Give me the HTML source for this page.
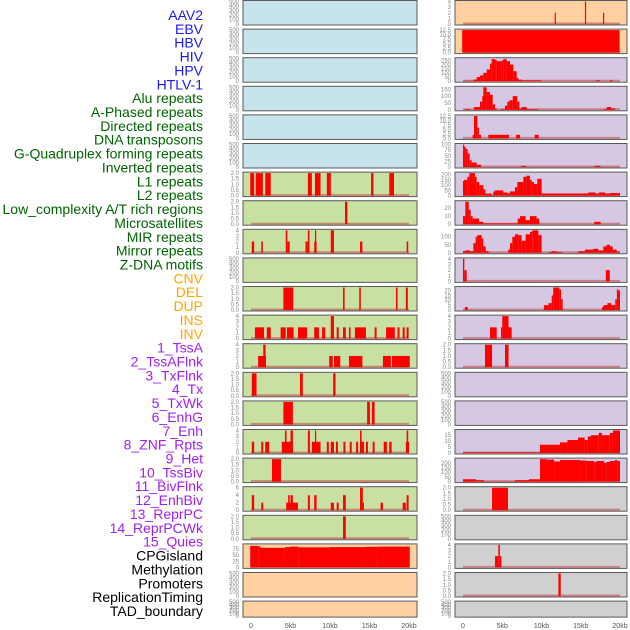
<!DOCTYPE html>
<html><head><meta charset="utf-8"><style>
html,body{margin:0;padding:0;background:#fff;width:630px;height:630px;overflow:hidden}
svg{display:block}
</style></head><body>
<svg id="chart" width="630" height="630" viewBox="0 0 630 630" xmlns="http://www.w3.org/2000/svg" font-family="Liberation Sans, sans-serif"></svg>
<script>
// ---------- labels ----------
const labelNames = ["AAV2","EBV","HBV","HIV","HPV","HTLV-1","Alu repeats","A-Phased repeats","Directed repeats","DNA transposons","G-Quadruplex forming repeats","Inverted repeats","L1 repeats","L2 repeats","Low_complexity A/T rich regions","Microsatellites","MIR repeats","Mirror repeats","Z-DNA motifs","CNV","DEL","DUP","INS","INV","1_TssA","2_TssAFlnk","3_TxFlnk","4_Tx","5_TxWk","6_EnhG","7_Enh","8_ZNF_Rpts","9_Het","10_TssBiv","11_BivFlnk","12_EnhBiv","13_ReprPC","14_ReprPCWk","15_Quies","CPGisland","Methylation","Promoters","ReplicationTiming","TAD_boundary"];
const labelGroups = [6,13,5,15,5];
const groupColors = ["#1a1aee","#006400","#ffa500","#a020f0","#000000"];

// ---------- tick label sets ----------
const T2 = ["0.0","0.5","1.0","1.5","2.0"];
const T4 = ["0","1","2","3","4"];
const T6 = ["0","2","4","6"];
const T500 = ["0","100","200","300","400","500"];
const T12 = ["0.0","2.5","5.0","7.5","10.0","12.5"];
const xTickKb = [0,5,10,15,20];
const xTickLabels = ["0","5kb","10kb","15kb","20kb"];

// ---------- left column data: [startKb, endKb, value] ----------
const leftL1 = [[-0.1,0.4,2],[0.6,1.5,2],[1.8,2.5,2],[7.2,7.7,2],[8.1,8.8,2],[9.6,10.1,2],[15.2,15.5,2],[17.5,18.1,2]];
const leftR7 = [[11.9,12.2,2]];
const leftR8 = [[0.1,0.4,2],[1.3,1.5,2],[4.4,4.6,4],[4.6,4.9,2],[6.9,7.2,2],[7.2,7.4,4],[8.0,8.3,2],[8.1,8.2,4],[10.1,10.5,4],[13.8,14.1,2],[19.7,19.9,2]];
const leftR10 = [[4.1,5.35,2],[11.65,11.85,2],[13.7,13.9,2],[18.35,18.55,2],[19.6,19.85,2]];
const leftR11 = [[0.5,1.65,2],[2.0,2.5,2],[3.75,4.4,2],[4.55,5.4,2],[5.95,7.1,2],[8.0,8.6,2],[9.0,9.4,2],[10.1,10.5,4],[10.85,11.1,2],[11.65,12.0,2],[12.4,12.6,2],[13.15,14.55,2],[15.65,15.9,2],[17.1,18.2,2],[18.55,18.8,2],[19.2,19.45,2],[19.7,19.95,2]];
const leftR12 = [[0.9,1.9,2],[1.55,1.85,4],[9.9,10.35,2],[10.5,11.3,2],[12.4,14.1,2],[16.7,17.7,2],[17.85,20.1,2]];
const leftR13 = [[0.1,0.7,2],[6.2,6.55,2],[10.4,10.7,2]];
const leftR14 = [[4.1,5.3,2],[14.7,15.05,2],[15.3,15.65,2]];
const leftR15 = [[0.1,0.4,2],[1.3,1.55,2],[1.8,2.3,2],[3.9,5.3,2],[4.3,4.5,4],[5.0,5.3,4],[7.2,7.45,4],[7.7,8.8,2],[8.1,8.25,4],[9.6,9.85,2],[10.1,10.5,2],[10.75,11.0,2],[11.7,11.95,2],[12.5,12.75,2],[13.3,13.55,2],[13.8,14.3,2],[13.8,14.0,4],[14.55,14.8,2],[15.4,15.65,2],[16.8,17.2,2],[17.5,17.8,2],[19.6,20.0,2],[19.7,19.9,4]];
const leftR16 = [[2.65,3.8,2]];
const leftR17 = [[0.1,0.4,4],[1.3,1.55,2],[4.45,5.95,2],[4.7,4.9,4],[5.0,5.3,4],[7.2,7.45,4],[8.0,8.3,4],[10.1,10.5,2],[10.85,11.1,2],[11.65,12.0,4],[13.8,14.15,6],[14.15,14.3,2],[16.4,16.7,2],[19.2,19.6,2],[19.7,19.95,4]];
const leftR18 = [[11.65,12.0,2]];
const leftCpg = [[-0.1,0.9,88],[0.9,1.2,86],[1.2,4.3,80],[4.3,5.0,83],[5.0,6.0,85],[6.0,10.0,82],[10.0,14.5,83],[14.5,16.0,84],[16.0,20.1,85]];

// ---------- right column data ----------
const rightR0 = [[11.68,11.82,2],[15.53,15.67,4],[17.83,17.97,2]];
const rightR1 = [[-0.1,19.95,12.5]];
const rightHiv = [[0.04,1.32,5],[1.32,1.74,20],[1.74,2.17,50],[2.17,2.59,70],[2.59,3.01,100],[3.01,3.44,140],[3.44,3.65,210],[3.65,4.08,265],[4.08,4.29,255],[4.29,4.92,240],[4.92,5.14,250],[5.14,5.56,265],[5.56,5.99,240],[5.99,6.41,200],[6.41,6.84,120],[6.84,7.05,40],[7.05,7.47,20],[7.47,10.0,10],[16.9,17.5,10],[18.7,19.1,10]];
const rightR3 = [[0.26,0.89,5],[1.4,2.17,20],[2.17,2.46,60],[2.46,2.59,100],[2.59,3.01,165],[3.01,3.44,130],[3.44,3.78,110],[3.78,4.08,40],[4.08,4.29,10],[4.84,5.35,5],[5.35,5.65,30],[5.65,5.9,60],[5.9,6.33,70],[6.33,6.92,100],[6.92,7.18,60],[7.18,7.47,10],[7.47,8.11,20],[8.11,9.59,5],[17.9,18.3,5],[18.3,18.9,20],[18.9,19.4,10]];
const rightR4 = [[1.23,1.4,2],[1.4,1.83,12.5],[1.83,2.04,6],[2.04,2.3,2],[3.23,5.86,2],[6.75,7.26,2],[9.13,9.64,2]];
const rightR5 = [[0,0.09,100],[0.09,0.34,90],[0.34,0.59,80],[0.59,0.85,60],[0.85,1.1,30],[1.1,1.74,20],[1.74,2.3,10],[7.4,8.0,5],[16.7,17.5,5]];
const rightR6 = [[0,0.13,140],[0.13,0.55,150],[0.55,0.81,180],[0.81,1.53,215],[1.53,1.74,180],[1.74,2.08,130],[2.08,2.59,100],[2.59,2.85,60],[2.85,3.65,20],[3.65,3.86,5],[3.86,4.08,40],[4.08,5.14,50],[5.14,5.65,30],[5.65,5.99,20],[5.99,6.62,40],[6.62,6.92,80],[6.92,7.69,130],[7.69,8.11,180],[8.11,8.53,190],[8.53,8.75,150],[8.75,9.04,130],[9.04,9.47,110],[9.47,10.02,160],[10.02,15.97,20],[15.97,16.9,30],[16.9,17.32,20],[17.32,18.09,30],[18.09,18.73,20],[18.73,20.0,25]];
const rightR7 = [[0,0.3,10],[0.3,0.72,28],[0.72,0.98,18],[0.98,1.23,10],[1.23,2.04,7],[2.04,2.59,3],[2.59,6.96,1],[6.96,7.26,7],[7.26,7.98,10],[7.98,8.53,5],[8.53,9.38,10],[9.38,9.72,7],[16.73,17.54,3]];
const rightR8 = [[0,0.25,10],[0.25,0.89,15],[0.89,1.32,10],[1.32,1.61,60],[1.61,1.83,100],[1.83,2.38,110],[2.38,2.59,90],[2.59,2.89,40],[2.89,3.23,10],[3.23,3.44,3],[5.77,5.99,20],[5.99,6.28,60],[6.28,6.62,100],[6.62,7.05,115],[7.05,7.47,110],[7.47,7.98,75],[7.98,8.53,115],[8.53,8.83,130],[8.83,9.6,140],[9.6,10.02,110],[10.96,11.3,5],[11.3,11.93,10],[11.93,12.57,5],[14.69,15.54,10],[15.54,16.6,20],[16.6,17.24,25],[17.24,17.88,15],[17.88,18.3,40],[18.3,18.73,50],[18.73,19.07,40],[19.07,19.58,20],[19.58,20.0,8]];
const rightR9 = [[0,0.17,4],[0.17,0.47,2],[18.2,18.7,2]];
const rightR10 = [[0.25,0.6,3],[10.3,10.9,5],[10.9,11.3,7],[11.3,11.5,15],[11.5,12.27,23],[12.27,12.5,21],[12.5,12.7,11],[17.7,17.9,3],[17.9,18.4,5],[18.4,18.9,7],[18.9,19.4,5],[19.4,19.6,11],[19.6,19.8,21],[19.8,20.0,20]];
const rightR11 = [[3.44,4.29,2],[4.84,5.0,2],[5.0,5.8,4],[5.8,6.2,2]];
const rightR12 = [[2.8,3.7,2],[5.35,5.8,2]];
const rightR15 = [[0,9.8,0.5],[9.8,12.36,7],[12.36,13.3,9],[13.3,14.65,11],[14.65,15.5,13],[15.5,15.9,11],[15.9,16.3,14],[16.3,17.3,15],[17.3,17.7,17],[17.7,18.7,15],[18.7,19.1,17],[19.1,20.0,19]];
const rightR16 = [[0,1.65,25],[1.65,2.67,15],[2.67,6.62,2],[6.62,8.4,15],[8.4,9.8,25],[9.8,10.57,240],[10.57,11.6,235],[11.6,12.36,215],[12.36,14.9,230],[14.9,15.75,225],[15.75,16.7,220],[16.7,17.0,210],[17.0,17.96,220],[17.96,18.3,200],[18.3,18.73,210],[18.73,19.36,220],[19.36,19.66,230],[19.66,20.0,220]];
const rightR17 = [[3.7,5.73,2]];
const rightR19 = [[4.08,4.5,2],[4.5,4.7,4],[4.7,4.9,2]];
const rightR20 = [[12.15,12.45,2]];

const BLUE="#c7e4ec", GREEN="#c8e0a2", ORANGE="#ffd0a0", LAV="#d6c7e3", GRAY="#d0d0d0";
const leftRows = [
 [BLUE,null,500,T500],[BLUE,null,500,T500],[BLUE,null,500,T500],[BLUE,null,500,T500],[BLUE,null,500,T500],[BLUE,null,500,T500],
 [GREEN,leftL1,2,T2],[GREEN,leftR7,2,T2],[GREEN,leftR8,4,T4],[GREEN,null,500,T500],[GREEN,leftR10,2,T2],[GREEN,leftR11,4,T4],
 [GREEN,leftR12,4,T4],[GREEN,leftR13,2,T2],[GREEN,leftR14,2,T2],[GREEN,leftR15,4,T4],[GREEN,leftR16,2,T2],[GREEN,leftR17,6,T6],
 [GREEN,leftR18,2,T2],[ORANGE,leftCpg,92,["0","25","50","75"]],[ORANGE,null,500,T500],[ORANGE,null,500,T500]
];
const rightRows = [
 [ORANGE,rightR0,4,T4],[ORANGE,rightR1,12.5,T12],[LAV,rightHiv,270,["0","50","100","150","200","250"]],[LAV,rightR3,165,["0","50","100","150"]],
 [LAV,rightR4,12.5,T12],[LAV,rightR5,100,["0","25","50","75","100"]],[LAV,rightR6,215,["0","50","100","150","200"]],[LAV,rightR7,28,["0","10","20"]],
 [LAV,rightR8,140,["0","50","100"]],[LAV,rightR9,4,T4],[LAV,rightR10,23,["0","5","10","15","20"]],[LAV,rightR11,4,T4],
 [LAV,rightR12,2,T2],[LAV,null,500,T500],[LAV,null,500,T500],[LAV,rightR15,19,["0","5","10","15"]],
 [LAV,rightR16,240,["0","50","100","150","200"]],[GRAY,rightR17,2,T2],[GRAY,null,500,T500],[GRAY,rightR19,4,T4],[GRAY,rightR20,2,T2],[GRAY,null,500,T500]
];

const NS="http://www.w3.org/2000/svg";
const svg=document.getElementById("chart");
function mk(tag,attrs,parent){const e=document.createElementNS(NS,tag);for(const k in attrs)e.setAttribute(k,attrs[k]);(parent||svg).appendChild(e);return e;}

let li=0;
labelGroups.forEach((n,g)=>{for(let k=0;k<n;k++){
  const t=mk("text",{x:203,y:20+li*13.86,"text-anchor":"end","font-size":"14",fill:groupColors[g]});
  t.textContent=labelNames[li];
  
  
  li++;}});

function drawColumn(rows,px,pw,x0,x20,colName){
  const xs=kb=>x0+kb*(x20-x0)/20;
  rows.forEach((r,i)=>{
    const top=i*28.6, h=(i===21)?17:25.5;
    const g=mk("g",{});
    
    
    const bg=mk("rect",{x:px,y:top+0.5,width:pw,height:h-1,fill:r[0],stroke:"#5a5a5a","stroke-width":"1"},g);
    
    
    const base=top+h-1.5, yt=top+1.5;
    const ys=v=>base-v/r[2]*(base-yt);
    r[3].forEach(tl=>{
      const v=parseFloat(tl);
      const t=mk("text",{x:px-4,y:ys(v)+2,"text-anchor":"end","font-size":"6",fill:"#888"},g);
      t.textContent=tl;
      
      
    });
    if(r[1]){
      const bl=mk("line",{x1:xs(0),x2:xs(20),y1:base-0.5,y2:base-0.5,stroke:"#c05050","stroke-width":"2","stroke-opacity":"0.6"},g);
      
      
      r[1].forEach(d=>{
        const x1=xs(d[0]),x2=xs(d[1]);
        const b=mk("rect",{x:x1,y:ys(d[2]),width:Math.max(1.2,x2-x1),height:base-ys(d[2]),fill:"#ff0000"},g);
        
        
      });
    }
  });
  xTickKb.forEach((kb,j)=>{
    const t=mk("text",{x:xs(kb),y:628,"text-anchor":"middle","font-size":"7",fill:"#555"});
    t.textContent=xTickLabels[j];
    
    
  });
}
drawColumn(leftRows,243,174,251,409,"left");
drawColumn(rightRows,455,172,463,620,"right");
</script>
</body></html>
